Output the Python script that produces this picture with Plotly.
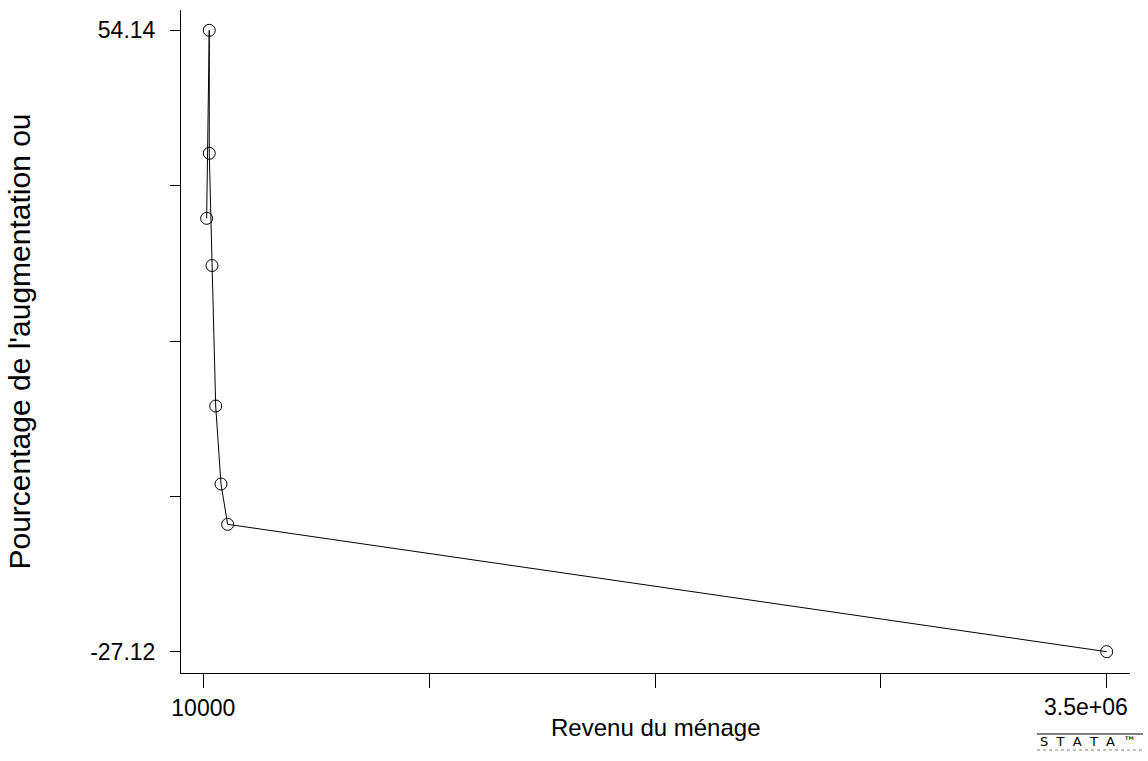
import plotly.graph_objects as go

# Data
revenu = [23000, 33000, 33000, 43600, 57900, 78400, 104000, 3500000]
pourcentage = [29.55, 54.14, 38.06, 23.38, 5.01, -5.19, -10.46, -27.12]

x_tick_vals = [10000, 882500, 1755000, 2627500, 3500000]
x_tick_text = ["10000", "", "", "", ""]
x_max_label = "3.5e+06"
x_max_value = 3500000
y_tick_vals = [-27.12, -6.805, 13.51, 33.825, 54.14]
y_tick_text = ["-27.12", "", "", "", "54.14"]

x_title = "Revenu du ménage"
y_title = "Pourcentage de l'augmentation ou"
logo_text = "S&nbsp; T&nbsp; A&nbsp; T&nbsp; A&nbsp; ™"

FONT = "Liberation Sans, Arial, Helvetica, sans-serif"

fig = go.Figure()
fig.add_trace(go.Scatter(
    x=revenu, y=pourcentage, mode="lines+markers",
    line=dict(color="black", width=1),
    marker=dict(symbol="circle-open", size=12, color="black", line=dict(width=1, color="black")),
    showlegend=False, hoverinfo="x+y",
))

fig.update_layout(
    width=1148, height=761,
    margin=dict(l=181, r=18, t=10, b=88, autoexpand=False),
    paper_bgcolor="white", plot_bgcolor="white",
    font=dict(family=FONT, color="black", size=22),
    xaxis=dict(
        range=[-76150, 3590010], showgrid=False, zeroline=False,
        showline=True, linecolor="black", linewidth=1,
        ticks="outside", ticklen=14, tickcolor="black", tickwidth=1,
        tickmode="array", tickvals=x_tick_vals, ticktext=x_tick_text,
        tickfont=dict(size=23, family=FONT), automargin=False,
    ),
    yaxis=dict(
        range=[-29.905, 56.795], showgrid=False, zeroline=False,
        showline=True, linecolor="black", linewidth=1,
        ticks="outside", ticklen=10, tickcolor="black", tickwidth=1,
        tickmode="array", tickvals=y_tick_vals, ticktext=y_tick_text,
        tickfont=dict(size=23, family=FONT), ticklabelstandoff=10,
        automargin=False,
    ),
    annotations=[
        dict(text=x_max_label, xref="x", yref="paper", x=x_max_value, y=-0.0513,
             xanchor="right", yanchor="middle", xshift=23, showarrow=False,
             font=dict(size=23, family=FONT)),
        dict(text=x_title, xref="paper", yref="paper", x=0.5, y=-0.082,
             xanchor="center", yanchor="middle", showarrow=False,
             font=dict(size=24, family=FONT)),
        dict(text=y_title, xref="paper", yref="paper", x=-0.1707, y=0.5,
             xanchor="center", yanchor="middle", showarrow=False, textangle=-90,
             font=dict(size=30, family=FONT)),
        dict(text=logo_text, xref="paper", yref="paper", x=0.9557, y=-0.104,
             xanchor="center", yanchor="middle", showarrow=False,
             font=dict(size=13, family="DejaVu Sans, sans-serif")),
    ],
    shapes=[
        dict(type="line", xref="paper", yref="paper", x0=0.902, x1=1.0137,
             y0=-0.092, y1=-0.092, line=dict(color="black", width=1)),
        dict(type="line", xref="paper", yref="paper", x0=0.902, x1=1.0137,
             y0=-0.1161, y1=-0.1161, line=dict(color="gray", width=1, dash="dot")),
    ],
)

fig.write_html("out.html", config={"displayModeBar": False},
               post_script="document.body.style.margin='0';")
